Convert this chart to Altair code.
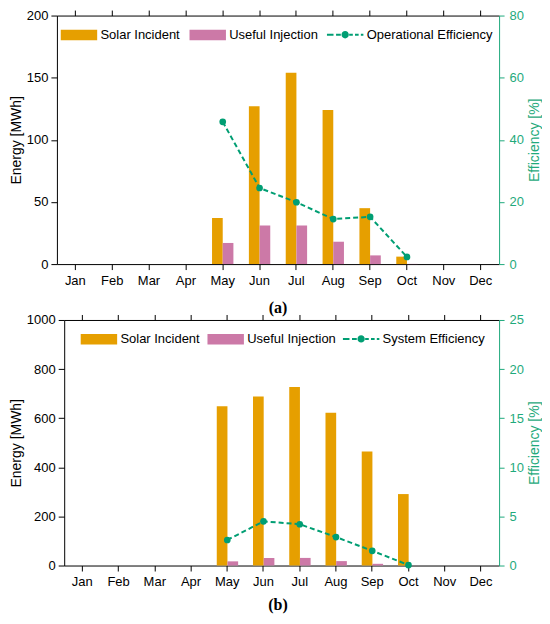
import altair as alt
import pandas as pd

months = ["Jan", "Feb", "Mar", "Apr", "May", "Jun", "Jul", "Aug", "Sep", "Oct", "Nov", "Dec"]
active_months = ["May", "Jun", "Jul", "Aug", "Sep", "Oct"]
series_bars = ["Solar Incident", "Useful Injection"]

# Panel (a)
solar_a = [37, 127, 154, 124, 45, 6]
useful_a = [17, 31, 31, 18, 7, 0.15]
eff_a = [45.8, 24.5, 19.9, 14.5, 15.2, 2.3]
# Panel (b)
solar_b = [649, 688, 727, 622, 464, 291]
useful_b = [17, 31, 31, 18, 7, 0.15]
eff_b = [2.6, 4.5, 4.2, 2.9, 1.5, 0.05]

ORANGE = "#E69F00"
PINK = "#CC79A7"
GREEN = "#009E73"
AXGREEN = "#1FAA7C"
FONT = "Liberation Sans"

SYM = 36.5
RECT_PATH = "M-1,-0.29H1V0.29H-1Z"
LINE_PATH = (
    "M-1,-0.055H-0.64V0.055H-1Z "
    "M-0.5,-0.055H-0.24V0.055H-0.5Z "
    "M0.2,0A0.2,0.2 0 1,1 -0.2,0A0.2,0.2 0 1,1 0.2,0Z "
    "M0.22,-0.055H0.42V0.055H0.22Z "
    "M0.54,-0.055H0.74V0.055H0.54Z "
    "M0.86,-0.055H1V0.055H0.86Z"
)

W = 443


def panel(solar, useful, eff, eff_name, lmax, lstep, rmax, rstep, h, x0,
          lx, ly, colpad, linex, label, toff):
    bar_df = pd.DataFrame({
        "month": active_months * 2,
        "series": [series_bars[0]] * len(active_months) + [series_bars[1]] * len(active_months),
        "value": list(solar) + list(useful),
    })
    eff_df = pd.DataFrame({"month": active_months, "eff": eff, "name": [eff_name] * len(active_months)})

    xscale = alt.Scale(domain=months, range=[x0, W], paddingInner=0.42, paddingOuter=0.21)

    bars = alt.Chart(bar_df).mark_bar().encode(
        x=alt.X("month:N", sort=months, scale=xscale,
                axis=alt.Axis(orient="bottom", title=None, labelAngle=0, labelFont=FONT,
                              labelFontSize=13, labelColor="black", tickColor="black",
                              domainColor="black", tickSize=5.5, labelPadding=5)),
        xOffset=alt.XOffset("series:N", sort=series_bars, scale=alt.Scale(domain=series_bars)),
        y=alt.Y("value:Q", scale=alt.Scale(domain=[0, lmax], nice=False),
                axis=alt.Axis(orient="left", title="Energy [MWh]", values=list(range(0, lmax + 1, lstep)),
                              format="d", offset=-x0,
                              labelFont=FONT, labelFontSize=13, labelColor="black",
                              tickColor="black", domainColor="black", tickSize=6, labelPadding=3,
                              titleFont=FONT, titleFontSize=14, titleFontWeight="normal",
                              titleColor="black", titlePadding=3)),
        color=alt.Color("series:N", scale=alt.Scale(domain=series_bars, range=[ORANGE, PINK]),
                        legend=alt.Legend(orient="none", legendX=lx, legendY=ly, direction="horizontal",
                                          title=None, symbolType=RECT_PATH, symbolSize=SYM * SYM,
                                          symbolStrokeWidth=0, labelFont=FONT, labelFontSize=13,
                                          labelColor="black", labelOffset=3, columnPadding=colpad,
                                          padding=0)),
    )

    line = alt.Chart(eff_df).mark_line(color=GREEN, strokeWidth=2, strokeDash=[5, 3]).encode(
        x=alt.X("month:N", sort=months, scale=xscale,
                axis=alt.Axis(orient="top", title=None, labels=False, ticks=True, domain=True,
                              tickColor="black", domainColor="black", tickSize=5.5, tickWidth=1)),
        y=alt.Y("eff:Q", scale=alt.Scale(domain=[0, rmax], nice=False),
                axis=alt.Axis(orient="right", title="Efficiency [%]", values=list(range(0, rmax + 1, rstep)),
                              labelFont=FONT, labelFontSize=13, labelColor=AXGREEN,
                              tickColor=AXGREEN, domainColor=AXGREEN, tickSize=5, labelPadding=5,
                              titleFont=FONT, titleFontSize=14, titleFontWeight="normal",
                              titleColor=AXGREEN, titlePadding=4, titleAngle=270,
                              titleBaseline="top")),
    )

    points = alt.Chart(eff_df).mark_circle(size=45, opacity=1).encode(
        x=alt.X("month:N", sort=months, scale=xscale, axis=None),
        y=alt.Y("eff:Q", scale=alt.Scale(domain=[0, rmax], nice=False), axis=None),
        fill=alt.Fill("name:N", scale=alt.Scale(domain=[eff_name], range=[GREEN]),
                      legend=alt.Legend(orient="none", legendX=linex, legendY=ly, direction="horizontal",
                                        title=None, symbolType=LINE_PATH, symbolSize=SYM * SYM,
                                        symbolStrokeWidth=0, labelFont=FONT, labelFontSize=13,
                                        labelColor="black", labelOffset=3, padding=0)),
    )

    return alt.layer(bars, line, points).resolve_scale(y="independent").resolve_axis(
        x="independent", y="independent").properties(
        width=W, height=h,
        title=alt.TitleParams(label, orient="bottom", font="Liberation Serif", fontSize=16,
                              fontWeight="bold", color="black", offset=toff, anchor="middle",
                              frame="group"),
    )


pa = panel(solar_a, useful_a, eff_a, "Operational Efficiency", 200, 50, 80, 20, 249, 0,
           3.6, 0.75, 9, 270.3, "(a)", 13)
pb = panel(solar_b, useful_b, eff_b, "System Efficiency", 1000, 200, 25, 5, 246, 7.3,
           23.6, 0.5, 7, 286.3, "(b)", 8)

chart = alt.concat(pa, pb, columns=1, spacing=-4).resolve_scale(
    color="independent", fill="independent").resolve_legend(
    color="independent", fill="independent").properties(
    padding={"left": 0, "top": 0, "right": 0, "bottom": 0}
).configure_view(stroke="transparent").configure_axis(grid=False)

chart.save("out.html", embed_options={"renderer": "svg", "actions": False})
